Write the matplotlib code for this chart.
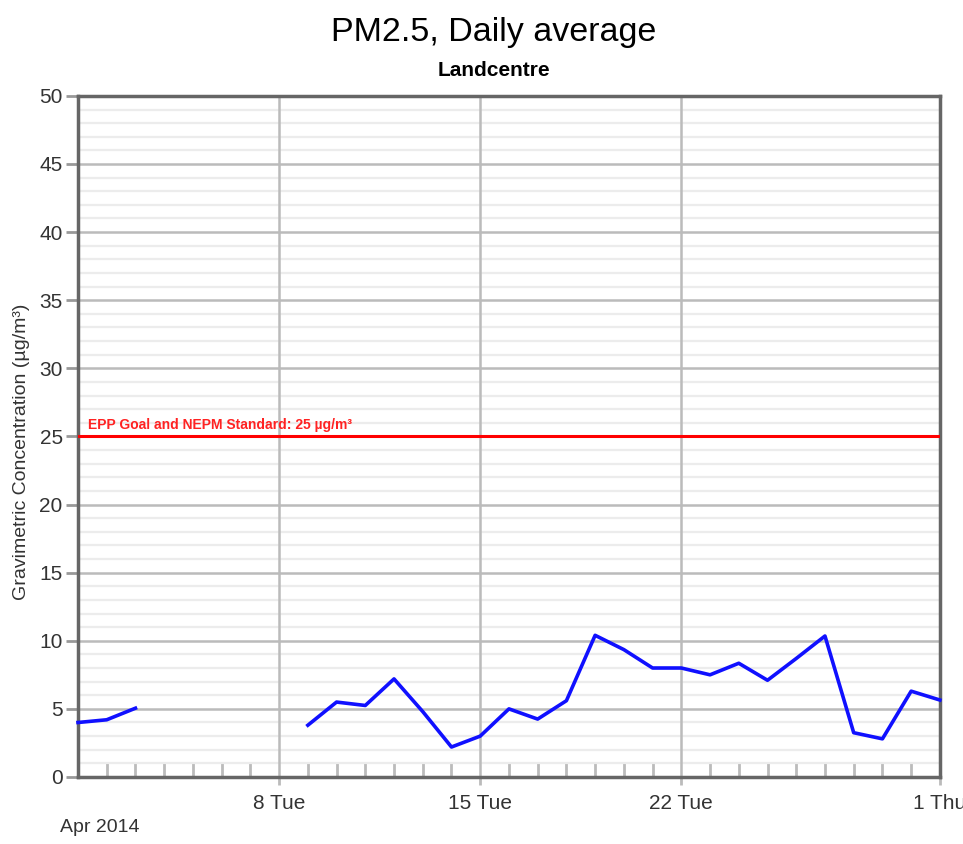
import datetime as dt

import matplotlib
matplotlib.use("Agg")
import matplotlib.pyplot as plt
import matplotlib.dates as mdates
import numpy as np
from matplotlib.ticker import MultipleLocator

# daily PM2.5 values, Apr 1 .. May 1 2014 (nan = no data)
days = [dt.datetime(2014, 4, 1) + dt.timedelta(days=i) for i in range(31)]
pm25 = [4.0, 4.2, 5.05, np.nan, np.nan, np.nan, np.nan, np.nan,
        3.8, 5.5, 5.25, 7.2, 4.8, 2.2, 3.0, 5.0, 4.25, 5.6, 10.4,
        9.35, 8.0, 8.0, 7.5, 8.35, 7.1, 8.7, 10.35, 3.25, 2.8, 6.3, 5.65]
tick_days = [dt.datetime(2014, 4, 8), dt.datetime(2014, 4, 15),
             dt.datetime(2014, 4, 22), dt.datetime(2014, 5, 1)]
tick_labels = ["8 Tue", "15 Tue", "22 Tue", "1 Thu"]
standard = 25

plt.rcParams['font.family'] = ['Liberation Sans', 'DejaVu Sans']

fig = plt.figure(figsize=(9.63, 8.44), dpi=100)
ax = fig.add_axes([0.081, 0.0794, 0.895, 0.807])

# grid
ax.set_ylim(0, 50)
ax.set_xlim(days[0], days[-1])
ax.yaxis.set_major_locator(MultipleLocator(5))
ax.yaxis.set_minor_locator(MultipleLocator(1))
ax.grid(which='minor', axis='y', color='#ececec', lw=1.6)
ax.grid(which='major', axis='y', color='#bbbbbb', lw=1.8)
ax.set_xticks(tick_days)
ax.set_xticklabels(tick_labels)
ax.xaxis.set_minor_locator(mdates.DayLocator())
for d in tick_days[:-1]:
    ax.axvline(d, color='#bbbbbb', lw=1.8, zorder=2)
ax.set_axisbelow(True)

for s in ax.spines.values():
    s.set_color('#666666')
    s.set_linewidth(2.5)

ax.tick_params(axis='y', which='major', direction='out', length=9,
               width=2, color='#999999', labelsize=15, labelcolor='#333333', pad=2)
ax.tick_params(axis='y', which='minor', length=0)
ax.tick_params(axis='x', which='major', direction='out', length=6,
               width=2, color='#bbbbbb', labelsize=15, labelcolor='#333333', pad=6)
ax.tick_params(axis='x', which='minor', direction='in', length=10,
               width=2, color='#bbbbbb')

# standard line
ax.axhline(standard, color='#ff0000', lw=2.2, zorder=3)
ax.text(days[0] + dt.timedelta(days=0.35), standard + 0.35,
        "EPP Goal and NEPM Standard: 25 µg/m³", color='#ff2222',
        fontsize=10, fontweight='bold', va='bottom', ha='left')

# data
ax.plot(days, pm25, color='#1010ff', lw=2.6, zorder=4, clip_on=False)

ax.set_ylabel("Gravimetric Concentration (µg/m³)", fontsize=14,
              color='#333333')
ax.yaxis.set_label_coords(-0.056, 0.477)
fig.text(0.513, 0.962, "PM2.5, Daily average", ha='center', va='center',
         fontsize=24.5)
fig.text(0.513, 0.917, "Landcentre", ha='center', va='center',
         fontsize=15, fontweight='bold')
fig.text(0.104, 0.019, "Apr 2014", ha='center', va='center',
         fontsize=14, color='#333333')

fig.savefig("out.png", dpi=100)
